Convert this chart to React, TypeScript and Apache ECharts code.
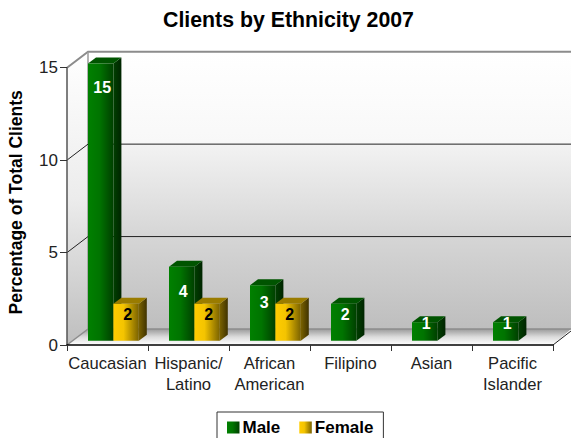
import React, { useEffect, useRef } from "react";
import * as echarts from "echarts";

const categories = ["Caucasian", "Hispanic/\nLatino", "African\nAmerican", "Filipino", "Asian", "Pacific\nIslander"];
const maleValues: (number | null)[] = [15, 4, 3, 2, 1, 1];
const femaleValues: (number | null)[] = [2, 2, 2, null, null, null];
const yTicks = [0, 5, 10, 15];

const FONT = '"Liberation Sans", Arial, sans-serif';
const L = 67, R = 553, T = 67.7, B = 345, W = 571, H = 438;
const DX = 21, DY = 16;
const unit = (B - T) / 15;

const hGrad = (stops: [number, string][]) => ({
  type: "linear", x: 0, y: 0, x2: 1, y2: 0,
  colorStops: stops.map(([offset, color]) => ({ offset, color })),
});
const vGrad = (stops: [number, string][]) => ({
  type: "linear", x: 0, y: 0, x2: 0, y2: 1,
  colorStops: stops.map(([offset, color]) => ({ offset, color })),
});

const maleStyle = {
  front: hGrad([[0, "#008000"], [0.45, "#007400"], [1, "#004000"]]),
  top: "#005400", side: hGrad([[0, "#004000"], [1, "#002400"]]), label: "#ffffff",
};
const femaleStyle = {
  front: hGrad([[0, "#ffcc00"], [0.4, "#f4c400"], [1, "#7a6200"]]),
  top: "#9a7c00", side: hGrad([[0, "#7a6200"], [1, "#403300"]]), label: "#000000",
};
const labelDrop: Record<number, number> = { 15: 24, 4: 25, 3: 17, 2: 11, 1: 1 };

const barSeries = (name: string, values: (number | null)[], slot: number, s: typeof maleStyle) => ({
  type: "custom", name, itemStyle: { color: s.front },
  data: values.map((v, i) => [i, v]).filter((d) => d[1] !== null),
  encode: { x: 0, y: 1 },
  renderItem: (_: any, api: any) => {
    const i = api.value(0), v = api.value(1);
    const band = api.size([1, 0])[0];
    const center = api.coord([i, v]);
    const bw = 25.4, d = 8, e = 6, lift = 4.3;
    const x0 = center[0] - band / 2 + DX + slot * bw;
    const x1 = x0 + bw;
    const yTop = center[1] - lift;
    const yBot = api.coord([i, 0])[1] - lift;
    return {
      type: "group",
      children: [
        { type: "polygon", shape: { points: [[x1, yTop], [x1 + d, yTop - e], [x1 + d, yBot - e], [x1, yBot]] }, style: { fill: s.side } },
        { type: "polygon", shape: { points: [[x0, yTop], [x0 + d, yTop - e], [x1 + d, yTop - e], [x1, yTop]] }, style: { fill: s.top } },
        { type: "rect", shape: { x: x0, y: yTop, width: bw, height: yBot - yTop }, style: { fill: s.front } },
        {
          type: "text", z2: 5,
          style: {
            x: x0 + bw / 2 + 1.5, y: yTop + labelDrop[v], text: String(v), fill: s.label,
            font: `bold 16px ${FONT}`, textAlign: "center", textVerticalAlign: "middle",
          },
        },
      ],
    };
  },
});

const wall = () => {
  const els: any[] = [
    { type: "polygon", z: -5, shape: { points: [[L + DX, T - DY], [W, T - DY], [W, B - DY], [L + DX, B - DY]] },
      style: { fill: vGrad([[0, "#ffffff"], [0.33, "#f8f8f8"], [0.34, "#f2f2f2"], [0.66, "#d6d6d6"], [1, "#bebebe"]]) } },
    { type: "polygon", z: -5, shape: { points: [[L, T], [L + DX, T - DY], [L + DX, B - DY], [L, B]] },
      style: { fill: vGrad([[0, "#ffffff"], [0.5, "#ececec"], [1, "#bebebe"]]) } },
    { type: "polygon", z: -4, shape: { points: [[L, B], [L + DX, B - DY], [W, B - DY], [R, B]] },
      style: { fill: vGrad([[0, "#9a9a9a"], [0.5, "#dcdcdc"], [1, "#ffffff"]]) } },
    { type: "polyline", z: -3, shape: { points: [[L, T], [L + DX, T - DY], [W, T - DY]] }, style: { fill: "none", stroke: "#8c8c8c", lineWidth: 2 } },
    { type: "line", z: -3, shape: { x1: L + DX, y1: T - DY, x2: L + DX, y2: B - DY }, style: { stroke: "#9a9a9a", lineWidth: 1.5 } },
    { type: "line", z: -3, shape: { x1: L + DX, y1: B - DY, x2: W, y2: B - DY }, style: { stroke: "#8c8c8c", lineWidth: 1.5 } },
    { type: "line", z: -3, shape: { x1: L, y1: B, x2: L + DX, y2: B - DY }, style: { stroke: "#8c8c8c", lineWidth: 1.5 } },
    { type: "line", z: -3, shape: { x1: R, y1: B, x2: W, y2: B - 14 }, style: { stroke: "#222", lineWidth: 1 } },
  ];
  yTicks.filter((t) => t === 5 || t === 10).forEach((t) => {
    const y = B - t * unit;
    els.push({ type: "polyline", z: -3, shape: { points: [[L, y], [L + DX, y - DY], [W, y - DY]] }, style: { fill: "none", stroke: "#222", lineWidth: 1 } });
  });
  return els;
};

export default function App() {
  const ref = useRef<HTMLDivElement>(null);
  useEffect(() => {
    const chart = echarts.init(ref.current!, undefined, { renderer: "svg" });
    chart.setOption({
      animation: false,
      backgroundColor: "#ffffff",
      title: {
        text: "Clients by Ethnicity 2007", left: 283.5, top: 4, textAlign: "center",
        textStyle: { fontFamily: FONT, fontWeight: "bold", fontSize: 21.3, color: "#000" },
      },
      grid: { left: L, right: W - R, top: T, bottom: H - B, outerBoundsMode: "none" },
      legend: {
        left: 217, top: 412, orient: "horizontal", padding: [7, 10, 7, 10], itemGap: 19,
        itemWidth: 12.5, itemHeight: 12, icon: "rect", borderColor: "#333", borderWidth: 1, backgroundColor: "#fff",
        data: ["Male", "Female"], textStyle: { fontFamily: FONT, fontWeight: "bold", fontSize: 17, color: "#000", padding: [0, 0, 0, -2] },
      },
      xAxis: {
        type: "category", data: categories, boundaryGap: true,
        axisLine: { lineStyle: { color: "#000", width: 1.5 } },
        axisTick: { show: true, length: 6, lineStyle: { color: "#333" } },
        axisLabel: { interval: 0, fontFamily: FONT, fontSize: 16.6, color: "#222", lineHeight: 21, margin: 8 },
      },
      yAxis: {
        type: "value", min: 0, max: 15, interval: 5,
        name: "Percentage of Total Clients", nameLocation: "middle", nameGap: 42,
        nameTextStyle: { fontFamily: FONT, fontWeight: "bold", fontSize: 17.5, color: "#000", padding: [0, 0, 0, 8] },
        splitLine: { show: false },
        axisLine: { show: true, lineStyle: { color: "#555", width: 1.5 } },
        axisTick: { show: true, length: 7, lineStyle: { color: "#333" } },
        axisLabel: { fontFamily: FONT, fontSize: 17, color: "#222", margin: 9 },
      },
      graphic: wall(),
      series: [
        barSeries("Male", maleValues, 0, maleStyle),
        barSeries("Female", femaleValues, 1, femaleStyle),
      ],
    });
    return () => chart.dispose();
  }, []);
  return <div ref={ref} style={{ position: "fixed", left: 0, top: 0, width: W, height: H }} />;
}
